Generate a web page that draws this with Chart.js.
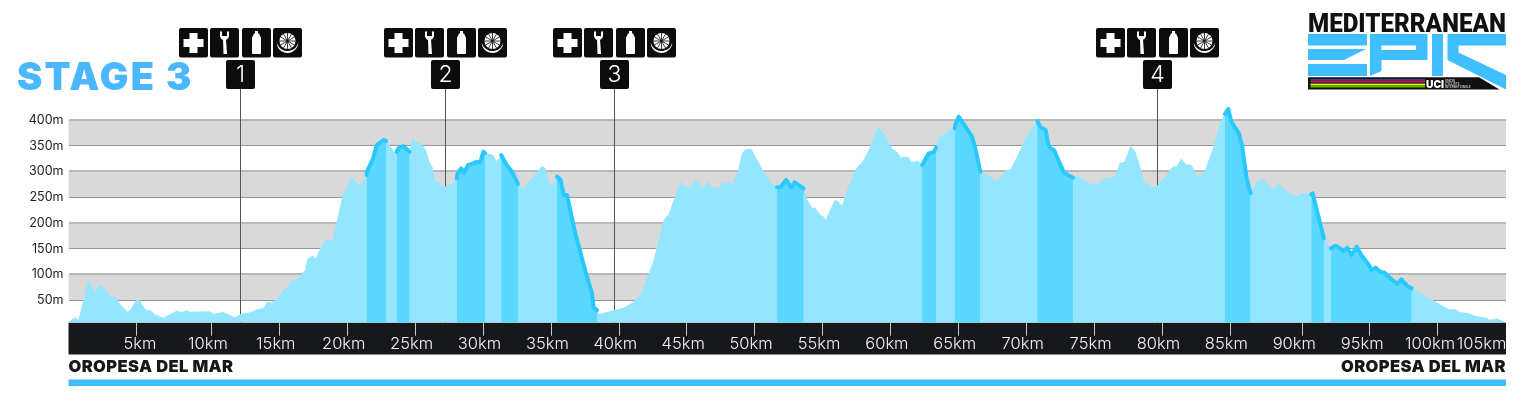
<!DOCTYPE html>
<html>
<head>
<meta charset="utf-8">
<title>Stage 3</title>
<script src="https://cdn.jsdelivr.net/npm/chart.js@4"></script>
<style>
  html, body { margin: 0; padding: 0; background: #fff; }
  canvas { display: block; }
</style>
</head>
<body>
<canvas id="myChart" width="1536" height="415"></canvas>
<script>
// elevation profile: distance in km, height in m
var profileKm = [-0.55, -0.06, 0.19, 0.92, 1.41, 1.83, 2.52, 3.01, 3.26, 3.82, 4.04, 4.48, 4.73, 5.15, 5.47, 5.83, 6.45, 7.43, 7.8, 8.17,
  8.41, 9.84, 10.2, 10.82, 11.73, 12.14, 12.83, 13.44, 13.81, 14.06, 14.43, 14.79, 15.29, 15.58, 15.83, 16.27, 16.88, 17.05, 17.42, 17.67,
  17.94, 18.43, 18.89, 19.65, 19.95, 20.27, 20.88, 21.18, 21.42, 21.47, 21.87, 22.16, 22.65, 22.85, 23.27, 23.44, 23.63, 23.75, 24.12, 24.57,
  24.79, 24.98, 25.47, 25.79, 26.04, 26.26, 26.48, 26.78, 27.07, 27.44, 27.76, 28.05, 28.1, 28.37, 28.59, 28.89, 29.28, 29.47, 29.77, 30.02,
  30.14, 30.7, 31, 31.32, 31.73, 32.12, 32.56, 32.91, 33.72, 34.33, 34.58, 34.87, 35.19, 35.43, 35.68, 35.93, 36.17, 36.78, 37.57, 38.01,
  38.13, 38.38, 38.55, 40.34, 40.96, 41.65, 42.55, 42.92, 43.29, 43.66, 44.52, 44.69, 45.06, 45.25, 45.55, 45.82, 46.06, 46.24, 46.6, 46.85,
  47.29, 47.76, 47.95, 48.12, 48.37, 48.81, 49.06, 49.3, 49.75, 50.66, 51.22, 51.64, 51.88, 52.3, 52.69, 52.94, 53.6, 53.85, 54.26, 54.41,
  54.83, 55.03, 55.22, 55.88, 56.13, 56.42, 56.79, 57.48, 57.9, 58.39, 59.05, 59.49, 60.11, 60.55, 60.72, 61.29, 61.53, 62.02, 62.32, 62.81,
  63.18, 63.35, 63.54, 64.04, 64.4, 64.72, 64.77, 65.02, 66, 66.24, 66.61, 66.98, 67.28, 67.6, 67.91, 68.45, 68.82, 69.31, 69.82, 70.31,
  70.8, 71.05, 71.42, 71.59, 71.78, 72.03, 72.77, 73.43, 73.7, 74.73, 75.1, 75.27, 75.66, 76.08, 76.25, 76.57, 76.87, 77.2, 77.68, 78.04,
  78.46, 78.66, 78.95, 79.2, 79.59, 80.13, 80.62, 80.87, 81.06, 81.41, 81.73, 82.17, 82.59, 83.08, 83.69, 84.3, 84.62, 84.87, 85.09, 85.65,
  85.9, 86.22, 86.51, 87, 87.45, 88.23, 88.53, 89.46, 89.95, 90.2, 90.98, 91.08, 91.42, 91.91, 92.43, 92.77, 93.09, 93.34, 93.63, 93.95,
  94.32, 94.66, 95.23, 95.43, 95.72, 96.04, 96.38, 96.95, 97.32, 97.61, 98.05, 98.37, 99.03, 100.26, 101.12, 101.61, 101.91, 102.59, 103.09, 103.9,
  104.12, 104.61, 105.32];
var profileM = [7.8, 16.8, 11.6, 89.3, 66.7, 81.5, 58.2, 55, 42.7, 27.2, 32.4, 52.4, 48.5, 31, 31, 22.6, 16.2, 29.8, 27.2, 30.4,
  27.8, 28.5, 23.3, 27.2, 16.8, 23.3, 26.5, 33.6, 34.3, 46, 46, 52.4, 69.9, 76.4, 86.7, 90.6, 108.7, 129.4, 137.2, 130.7,
  147.6, 168.3, 165, 254.3, 267.3, 288.6, 271.8, 280.2, 293.2, 301.6, 323.6, 351.4, 361.1, 359.8, 345, 338.5, 338.5, 345, 349.5, 338.5,
  363.7, 359.2, 352.7, 341.7, 319.1, 309.4, 280.2, 278.3, 269.2, 273.8, 277, 286.7, 295.1, 306.1, 297.7, 312.6, 315.8, 318.4, 317.8, 338.5,
  336, 332.7, 320.4, 332, 312.6, 299.6, 275.7, 266.6, 291.2, 310.7, 306.1, 277, 275.7, 290, 284.8, 254.3, 254.3, 179.9, 102.3, 63.4,
  36.2, 31, 23.3, 35.6, 45.3, 63.4, 128.1, 167, 205.8, 216.8, 281.5, 272.5, 271.8, 268, 282.2, 280.2, 268.6, 269.2, 280.2, 270.5,
  268, 279, 277, 279.6, 274.4, 306.1, 335.2, 343, 343.7, 299.6, 278.3, 269.2, 269.2, 283.5, 269.2, 279, 267.3, 246, 228.5, 231,
  215.5, 213.6, 205.8, 244.6, 242.7, 233.6, 264, 306.1, 317.8, 341.7, 387, 374.1, 345, 336.5, 327.5, 328.8, 319.1, 320.4, 312.6, 335.2,
  337.2, 346.2, 364.4, 374.1, 381.8, 383.8, 391.6, 406.4, 367.6, 345, 299.6, 295.1, 291.2, 285.4, 281.5, 301.6, 304.8, 328.8, 357.9, 380.5,
  398, 385.7, 380.5, 354.7, 345, 341.7, 297.7, 288, 292.5, 275.7, 277, 274.4, 285.4, 289.3, 288, 291.2, 317.1, 318.4, 350.1, 337.2,
  302.9, 278.3, 277, 268.6, 271.8, 286.7, 304.2, 310.7, 309.4, 325.5, 314.5, 312.6, 290, 297.7, 341.7, 396.7, 411.6, 421.3, 396.7, 374.1,
  348.2, 286.7, 257.6, 280.2, 284.8, 264, 277, 256.3, 251.1, 257.6, 255.6, 257.6, 222, 170.2, 150.8, 156, 150.8, 145.6, 152.1, 137.8,
  154, 137.8, 118.4, 108.7, 113.3, 105.5, 103.5, 89.3, 81.5, 90.6, 77.7, 73.1, 63.4, 45.3, 32.4, 32.4, 27.2, 24.6, 19.4, 16.2,
  12.3, 14.9, 7.8];

// start and end km of the steep sections
var climbStart = [21.42, 23.63, 28.05, 31.32, 35.43, 51.64, 62.32, 64.72, 70.8, 84.62, 90.98, 92.43];
var climbEnd = [22.85, 24.57, 30.14, 32.56, 38.38, 53.6, 63.35, 66.61, 73.43, 86.51, 91.91, 98.37];

var heightTicks = [50, 100, 150, 200, 250, 300, 350, 400];
var greyBandTop = [400, 300, 200, 100];
var greyBandBottom = [350, 250, 150, 50];
var kmMarks = [4.47, 10, 15, 20, 25, 30, 35, 40, 45, 50, 55, 60, 65, 70, 75, 80, 85, 90.3, 95.3, 100.3];
var kmLabelAt = [5, 10, 15, 20, 25, 30, 35, 40, 45, 50, 55, 60, 65, 70, 75, 80, 85, 90, 95, 100, 103.8];
var kmLabels = ["5km", "10km", "15km", "20km", "25km", "30km", "35km", "40km", "45km", "50km", "55km", "60km", "65km", "70km", "75km", "80km", "85km", "90km", "95km", "100km", "105km"];
var stationKm = [12.13, 27.22, 39.67, 79.65];
var stationNames = ["1", "2", "3", "4"];

var textFont = "Inter, sans-serif";

function points(from, to) {
  var out = [];
  profileKm.forEach(function (km, i) {
    if (km >= from && km <= to) out.push({ x: km, y: profileM[i] });
  });
  return out;
}

var datasets = [];
climbStart.forEach(function (start, i) {
  datasets.push({
    data: points(start, climbEnd[i]),
    borderColor: "#27c9ff",
    borderWidth: 4,
    borderCapStyle: "round",
    borderJoinStyle: "round",
    backgroundColor: "#5ad7ff",
    fill: "start",
    pointRadius: 0,
    tension: 0,
    order: 1
  });
});
datasets.push({
  data: points(-1, 106),
  borderWidth: 0,
  backgroundColor: "#94e5ff",
  fill: "start",
  pointRadius: 0,
  tension: 0,
  order: 2
});

function box(ctx, x, y, w, h) {
  ctx.beginPath();
  ctx.roundRect(x, y, w, h, 2);
  ctx.fillStyle = "#0b0c0e";
  ctx.fill();
}

function poly(ctx, color, pts) {
  ctx.beginPath();
  ctx.fillStyle = color;
  pts.forEach(function (p, i) {
    if (i == 0) ctx.moveTo(p[0], p[1]);
    else ctx.lineTo(p[0], p[1]);
  });
  ctx.closePath();
  ctx.fill();
}

function drawIcons(ctx, cx) {
  var top = 28;
  var lefts = [cx - 61.5, cx - 30.5, cx + 1.5, cx + 32.5];
  lefts.forEach(function (l) { box(ctx, l, top, 29, 29.5); });
  ctx.fillStyle = "#fff";
  // cross
  ctx.fillRect(lefts[0] + 4.5, top + 11, 20, 8);
  ctx.fillRect(lefts[0] + 10.5, top + 5, 8, 20);
  // spanner
  var m = lefts[1] + 14.5;
  poly(ctx, "#fff", [[m - 1.5, top + 11], [m + 1.5, top + 11], [m + 2.5, top + 26], [m - 1, top + 26]]);
  ctx.beginPath();
  ctx.arc(m, top + 7.5, 4.5, 0.1, Math.PI - 0.1);
  ctx.fill();
  ctx.fillRect(m - 4.5, top + 3.5, 2, 5);
  ctx.fillRect(m + 2.5, top + 3.5, 2, 5);
  // bottle
  var b = lefts[2] + 14.5;
  ctx.beginPath();
  ctx.roundRect(b - 4.5, top + 9, 9, 17, 1);
  ctx.fill();
  ctx.fillRect(b - 1.5, top + 3, 3, 3);
  poly(ctx, "#fff", [[b - 2.5, top + 5.5], [b + 2.5, top + 5.5], [b + 4.5, top + 10], [b - 4.5, top + 10]]);
  // wheel
  var wx = lefts[3] + 14.5, wy = top + 13;
  ctx.beginPath();
  ctx.arc(wx, wy, 8, 0, Math.PI * 2);
  ctx.fill();
  ctx.strokeStyle = "#0b0c0e";
  ctx.lineWidth = 0.8;
  for (var a = 0; a < 6; a++) {
    ctx.beginPath();
    ctx.moveTo(wx - Math.cos(a * Math.PI / 6) * 8, wy - Math.sin(a * Math.PI / 6) * 8);
    ctx.lineTo(wx + Math.cos(a * Math.PI / 6) * 8, wy + Math.sin(a * Math.PI / 6) * 8);
    ctx.stroke();
  }
  ctx.beginPath();
  ctx.arc(wx, wy + 1, 11, 0.35, Math.PI - 0.35);
  ctx.arc(wx, wy - 1, 11, Math.PI - 0.2, 0.2, true);
  ctx.closePath();
  ctx.fillStyle = "#fff";
  ctx.fill();
}

function drawLogo(ctx) {
  var blue = "#3fbfff";
  ctx.fillStyle = "#111";
  ctx.font = "900 25px Roboto, sans-serif";
  ctx.textAlign = "left";
  ctx.textBaseline = "alphabetic";
  ctx.fillText("MEDITERRANEAN", 1308, 32, 198);
  // E
  poly(ctx, blue, [[1308, 34], [1367, 34], [1367, 45.5], [1308, 45.5]]);
  poly(ctx, blue, [[1308, 49], [1366, 49], [1344, 60], [1308, 60]]);
  poly(ctx, blue, [[1308, 64], [1367, 64], [1367, 76], [1308, 76]]);
  // P
  poly(ctx, blue, [[1370, 34], [1427.5, 34], [1427.5, 60], [1381.5, 60], [1381.5, 71], [1370, 76]]);
  poly(ctx, "#fff", [[1381.5, 45.5], [1416, 45.5], [1416, 50], [1381.5, 50]]);
  // I
  poly(ctx, blue, [[1432, 34], [1443, 34], [1443, 76], [1432, 76]]);
  // C
  poly(ctx, blue, [[1447.5, 34], [1506, 34], [1506, 45.5], [1458.5, 45.5], [1458.5, 52.5], [1506, 75], [1506, 89.5], [1447.5, 60]]);
  // black strip with the world champion colours
  poly(ctx, "#111", [[1308, 77.3], [1479, 77.3], [1499.5, 89.5], [1308, 89.5]]);
  ctx.fillStyle = "#33409f"; ctx.fillRect(1310.5, 79, 114.5, 1.8);
  ctx.fillStyle = "#c4104a"; ctx.fillRect(1310.5, 80.8, 114.5, 1.8);
  ctx.fillStyle = "#eef000"; ctx.fillRect(1310.5, 83.6, 114.5, 1.6);
  ctx.fillStyle = "#5cc400"; ctx.fillRect(1310.5, 85.2, 114.5, 2.3);
  ctx.fillStyle = "#fff";
  ctx.font = "900 11px " + textFont;
  ctx.fillText("UCI", 1426, 88, 18);
  ctx.font = "3px " + textFont;
  ctx.fillText("UNION", 1445, 81.5);
  ctx.fillText("CYCLISTE", 1445, 84.5);
  ctx.fillText("INTERNATIONALE", 1445, 87.5);
}

var stagePlugin = {
  id: "stage",
  beforeDraw: function (chart) {
    var ctx = chart.ctx;
    var area = chart.chartArea;
    var y = chart.scales.y;
    ctx.save();
    // grey bands behind the grid lines
    ctx.fillStyle = "#d9d9d9";
    greyBandTop.forEach(function (top, i) {
      var y1 = y.getPixelForValue(top);
      var y2 = y.getPixelForValue(greyBandBottom[i]);
      ctx.fillRect(area.left, y1, area.width, y2 - y1);
    });
    // km band and the bottom of the page
    ctx.fillStyle = "#17181b";
    ctx.fillRect(area.left, area.bottom, area.width, 354.5 - area.bottom);
    ctx.fillStyle = "#3ebeff";
    ctx.fillRect(area.left, 379.5, area.width, 6.5);
    ctx.fillStyle = "#17181b";
    ctx.font = "900 16.5px " + textFont;
    ctx.letterSpacing = "0.4px";
    ctx.textBaseline = "alphabetic";
    ctx.textAlign = "left";
    ctx.fillText("OROPESA DEL MAR", area.left, 372);
    ctx.textAlign = "right";
    ctx.fillText("OROPESA DEL MAR", area.right, 372);
    ctx.textAlign = "left";
    ctx.fillStyle = "#4ab8ff";
    ctx.font = "900 38px " + textFont;
    ctx.letterSpacing = "2.2px";
    ctx.fillText("STAGE 3", 17, 89.5);
    ctx.letterSpacing = "0px";
    drawLogo(ctx);
    ctx.restore();
  },
  beforeDatasetsDraw: function (chart) {
    var ctx = chart.ctx;
    var x = chart.scales.x;
    ctx.save();
    stationKm.forEach(function (km, i) {
      var px = Math.floor(x.getPixelForValue(km)) + 0.5;
      ctx.strokeStyle = "#555";
      ctx.lineWidth = 1;
      ctx.beginPath();
      ctx.moveTo(px, 89);
      ctx.lineTo(px, chart.chartArea.bottom);
      ctx.stroke();
      drawIcons(ctx, px);
      box(ctx, px - 14.5, 60, 29, 29);
      ctx.fillStyle = "#fff";
      ctx.font = "300 23px " + textFont;
      ctx.textAlign = "center";
      ctx.textBaseline = "middle";
      ctx.fillText(stationNames[i], px, 75.5);
    });
    ctx.restore();
  }
};

var ctx = document.getElementById("myChart").getContext("2d");

var myChart = new Chart(ctx, {
  type: "line",
  data: { datasets: datasets },
  plugins: [stagePlugin],
  options: {
    responsive: false,
    animation: false,
    devicePixelRatio: 1,
    layout: { padding: { top: 100, right: 30, left: 0, bottom: 0 } },
    plugins: { legend: { display: false }, tooltip: { enabled: false } },
    scales: {
      x: {
        type: "linear",
        min: -0.54,
        max: 105.32,
        position: "bottom",
        weight: 0,
        afterBuildTicks: function (axis) {
          axis.ticks = kmMarks.map(function (v) { return { value: v }; });
        },
        afterFit: function (axis) { axis.height = 0; },
        border: { display: false },
        grid: { drawOnChartArea: false, drawTicks: true, tickLength: 13, tickColor: "#c8c8c8", lineWidth: 1 },
        ticks: { display: false, autoSkip: false }
      },
      kmText: {
        type: "linear",
        min: -0.54,
        max: 105.32,
        position: "bottom",
        weight: 1,
        afterBuildTicks: function (axis) {
          axis.ticks = kmLabelAt.map(function (v) { return { value: v }; });
        },
        afterFit: function (axis) { axis.height = 92.3; },
        border: { display: false },
        grid: { display: false, drawTicks: false },
        ticks: {
          autoSkip: false,
          maxRotation: 0,
          includeBounds: false,
          padding: 11,
          labelOffset: -3.7,
          color: "#f2f2f2",
          font: { family: textFont, size: 16.5, weight: "300" },
          callback: function (value, i) { return kmLabels[i]; }
        }
      },
      y: {
        min: 6.4,
        max: 438.8,
        afterBuildTicks: function (axis) {
          axis.ticks = heightTicks.map(function (v) { return { value: v }; });
        },
        afterFit: function (axis) { axis.width = 68.5; },
        border: { display: false },
        grid: {
          drawTicks: false,
          color: function (c) { return heightTicks.indexOf(c.tick.value) % 2 == 1 ? "#b9b9b9" : "#969696"; },
          lineWidth: function (c) { return heightTicks.indexOf(c.tick.value) % 2 == 1 ? 2 : 1; }
        },
        ticks: {
          padding: 5,
          color: "#222",
          font: { family: textFont, size: 12.5 },
          callback: function (value) { return value + "m"; }
        }
      }
    }
  }
});
</script>
</body>
</html>
